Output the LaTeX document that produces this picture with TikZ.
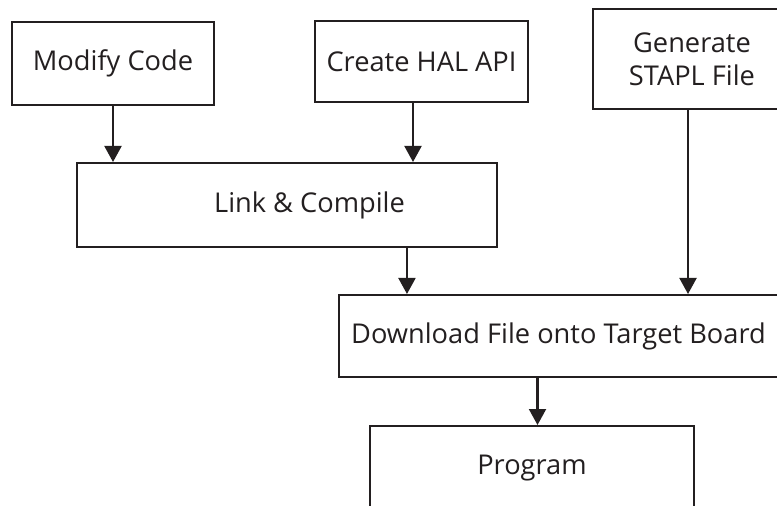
\documentclass[tikz,border=0pt]{standalone}
\usepackage{fontspec}
\setmainfont{Open Sans}
\usepackage{tikz}
\usetikzlibrary{arrows.meta,positioning,calc}
\definecolor{ink}{HTML}{231F20}
\tikzset{
	block/.style = {draw=ink, text=ink, fill=white, rectangle, line width=1.15pt,
		align=center, font=\fontsize{15.5}{19}\selectfont},
	flow/.style = {draw=ink, line width=1.15pt, ->}
}

\begin{document}
\begin{tikzpicture}[x=0.02cm, y=-0.02cm, >={Triangle[length=0.32cm,width=0.34cm]}]
    \useasboundingbox (0,0) rectangle (777,506);
    \clip (0,0) rectangle (777,506);
    % We start by placing the blocks
    \node [block, minimum width=4.04cm, minimum height=1.66cm] (modify) at (113,63.5) {Modify Code};
    \node [block, minimum width=4.26cm, minimum height=1.62cm] (hal) at (421.5,61.5) {Create HAL API};
    \node [block, minimum width=3.96cm, minimum height=2.0cm] (stapl) at (692,59) {Generate\\STAPL File};
    \node [block, minimum width=8.4cm, minimum height=1.68cm] (link) at (287,205) {\hspace*{0.9cm}Link \& Compile};
    \node [block, minimum width=8.78cm, minimum height=1.64cm] (download) at (558.5,336) {Download File onto Target Board};
    % the program block runs off the bottom of the page
    \node [block, minimum width=6.48cm, minimum height=1.68cm] (program) at (532,468) {Program};

    % Once the nodes are placed, connecting them is easy.
    \draw [flow] (modify.south) -- (modify.south |- link.north);
    \draw [flow] ([xshift=-0.17cm]hal.south) -- ([xshift=-0.17cm]hal.south |- link.north);
    \draw [flow] ([xshift=2.4cm]link.south) -- ([xshift=2.4cm]link.south |- download.north);
    \draw [flow] ([xshift=-0.08cm]stapl.south) -- ([xshift=-0.08cm]stapl.south |- download.north);
    \draw [flow] ([xshift=0.11cm]program.north |- download.south) -- ([xshift=0.11cm]program.north);
\end{tikzpicture}
\end{document}
